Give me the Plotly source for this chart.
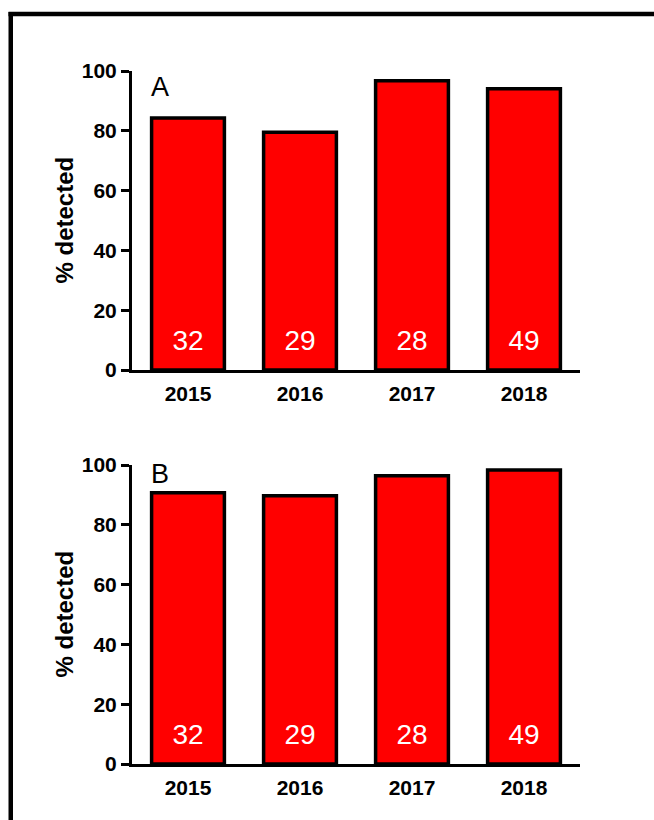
import plotly.graph_objects as go

W, H = 654, 820
years = ["2015", "2016", "2017", "2018"]
pct_a = [84.3, 79.5, 96.7, 94.1]
pct_b = [90.7, 89.7, 96.4, 98.3]
n_a = [32, 29, 28, 49]
n_b = [32, 29, 28, 49]
panel_labels = ["A", "B"]
y_ticks = [0, 20, 40, 60, 80, 100]

FONT = "Liberation Sans, Arial, sans-serif"

def px_x(x):
    return x / W

def px_y(y):
    return 1 - y / H

fig = go.Figure()

panels = [
    (pct_a, n_a, "x", "y", (71, 370), 16.5),
    (pct_b, n_b, "x2", "y2", (465, 764), 9),
]

for vals, ns, xa, ya, _, _ in panels:
    fig.add_trace(go.Bar(
        x=years, y=vals, xaxis=xa, yaxis=ya, width=0.65,
        marker=dict(color="#ff0000", line=dict(color="black", width=3.5)),
        showlegend=False, hoverinfo="skip",
    ))
    fig.add_trace(go.Scatter(
        x=years, y=[9] * len(years), xaxis=xa, yaxis=ya, mode="text",
        text=[str(v) for v in ns], textposition="middle center",
        textfont=dict(family=FONT, size=28, color="white"),
        showlegend=False, hoverinfo="skip",
    ))

xdom = [px_x(132), px_x(580)]
axis_common_x = dict(
    type="category", categoryorder="array", categoryarray=years,
    domain=xdom, range=[-0.5, 3.5], showline=True, linewidth=3, linecolor="black",
    ticks="outside", ticklen=3, tickcolor="rgba(0,0,0,0)",
    tickfont=dict(family=FONT, size=21, color="black", weight="bold"),
    showgrid=False, zeroline=False, fixedrange=True, automargin=False,
)
axis_common_y = dict(
    range=[0, 100], tickvals=y_ticks, showline=True, linewidth=3, linecolor="black",
    ticks="outside", ticklen=8, tickwidth=3, tickcolor="black",
    tickfont=dict(family=FONT, size=21, color="black", weight="bold"),
    showgrid=False, zeroline=False, fixedrange=True, automargin=False,
)

fig.update_layout(
    template="none",
    width=W, height=H, margin=dict(l=0, r=0, t=0, b=0, pad=0, autoexpand=False),
    paper_bgcolor="white", plot_bgcolor="white",
    bargap=0.35,
    xaxis=dict(axis_common_x, anchor="y"),
    yaxis=dict(axis_common_y, domain=[px_y(370), px_y(71)], anchor="x"),
    xaxis2=dict(axis_common_x, anchor="y2"),
    yaxis2=dict(axis_common_y, domain=[px_y(764), px_y(465)], anchor="x2"),
)

annotations = []
for (vals, ns, xa, ya, (ytop, ybot), lab_off), lab in zip(panels, panel_labels):
    annotations.append(dict(
        x=px_x(64), y=px_y((ytop + ybot) / 2), xref="paper", yref="paper",
        text="% detected", textangle=-90, showarrow=False,
        font=dict(family=FONT, size=24, color="black", weight="bold"),
        xanchor="center", yanchor="middle",
    ))
    annotations.append(dict(
        x=px_x(160), y=px_y(ytop + lab_off), xref="paper", yref="paper",
        text=lab, showarrow=False,
        font=dict(family=FONT, size=27, color="black"),
        xanchor="center", yanchor="middle",
    ))
fig.update_layout(annotations=annotations)

fig.update_layout(shapes=[
    dict(type="line", xref="paper", yref="paper", x0=px_x(8.5), x1=1,
         y0=px_y(14), y1=px_y(14), line=dict(color="black", width=4.5)),
    dict(type="line", xref="paper", yref="paper", x0=px_x(10.75), x1=px_x(10.75),
         y0=px_y(12), y1=0, line=dict(color="black", width=4.5)),
])

fig.write_html("out.html")
